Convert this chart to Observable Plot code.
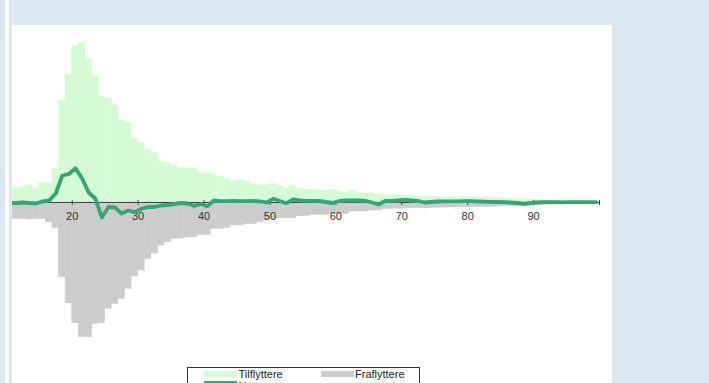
<!DOCTYPE html>
<html><head><meta charset="utf-8">
<script src="https://cdn.jsdelivr.net/npm/d3@7"></script>
<script src="https://cdn.jsdelivr.net/npm/@observablehq/plot@0.6"></script>
<style>
html,body{margin:0;padding:0;}
body{width:709px;height:383px;overflow:hidden;background:#d9e8f3;position:relative;font-family:"Liberation Sans",Arial,sans-serif;}
#strip{position:absolute;left:5px;top:0;width:4px;height:383px;background:#fff;}
#panel{position:absolute;left:12px;top:25px;width:600px;height:358px;background:#fff;overflow:hidden;}
#chart{position:absolute;left:-12px;top:0;}
#legend{position:absolute;left:175px;top:342px;width:231px;height:40px;border:1px solid #333;font-size:11px;color:#222;}
#legend .sw{position:absolute;}
#legend .lb{position:absolute;line-height:12px;white-space:nowrap;}
</style>
</head><body>
<div id="strip"></div>
<div id="panel">
  <div id="chart"></div>
  <div id="legend"></div>
</div>
<script>
// ages 10..99 (one bar per age, spanning [age, age+1])
const ages = d3.range(10, 100);
const tilflyttere = [
  137,137,150,167,130,193,193,337,1020,1277,
  1560,1593,1430,1260,1053,1037,970,820,793,630,
  593,520,495,403,393,363,347,337,337,290,
  290,273,260,233,207,220,207,183,170,170,
  183,167,140,163,137,127,127,120,117,127,
  110,97,120,93,87,87,77,70,70,70,
  65,62,60,58,55,53,50,50,52,55,
  58,48,45,43,40,38,35,33,32,30,
  30,25,22,20,17,15,12,10,8,6
];
const fraflyttere = [
  163,163,163,170,163,163,197,253,747,1007,
  1207,1347,1347,1213,1207,1063,1013,963,863,740,
  680,563,510,430,397,363,360,350,347,323,
  323,263,263,253,230,230,213,213,197,170,
  170,157,157,157,137,137,123,123,123,113,
  113,113,90,90,90,80,80,63,63,63,
  55,55,55,58,55,52,50,50,48,48,
  48,45,45,43,40,38,35,35,35,32,
  30,25,22,20,17,15,12,10,8,6
];
const netto = [
  -5,-5,0,-5,-10,10,20,90,270,285,
  343,240,100,40,-150,-45,-50,-110,-80,-97,
  -63,-47,-45,-30,-25,-15,-5,-10,-35,-15,
  -37,20,13,13,15,13,13,15,12,0,
  37,15,-7,30,20,17,17,15,5,-5,
  15,20,20,20,17,0,-20,15,17,20,
  27,20,15,0,5,10,12,12,12,13,
  13,10,8,5,5,3,0,-5,-13,-5,
  0,3,3,3,2,3,3,3,3,3
];
const tickValues = [10,20,30,40,50,60,70,80,90,100];
const tickLabels = [20,30,40,50,60,70,80,90];

const rows = ages.map((a, i) => ({age: a, tilf: tilflyttere[i], fra: fraflyttere[i], netto: netto[i]}));

const colIn = "#d5fbd5", colOut = "#cccccc", colNet = "#36a474", colAxis = "#444";

const vtick = {draw(ctx, size) { const r = Math.sqrt(size / Math.PI); ctx.moveTo(0, -r); ctx.lineTo(0, r); }};

const chart = Plot.plot({
  width: 612, height: 338,
  marginLeft: 5.8, marginRight: 13, marginTop: 0, marginBottom: 0,
  style: {fontFamily: "'Liberation Sans', Arial, sans-serif", fontSize: "11px", background: "transparent", overflow: "visible"},
  x: {domain: [10, 100], axis: null},
  y: {domain: [-1610, 1770], axis: null},
  marks: [
    Plot.rectY(rows, {x1: "age", x2: d => d.age + 1, y: "tilf", fill: colIn, stroke: colIn, strokeWidth: 0.6}),
    Plot.rectY(rows, {x1: "age", x2: d => d.age + 1, y: d => -d.fra, fill: colOut, stroke: colOut, strokeWidth: 0.6}),
    Plot.ruleY([0], {stroke: colAxis, strokeWidth: 1}),
    Plot.dot(tickValues, {x: d => d, y: 0, symbol: vtick, r: 2.6, stroke: colAxis, fill: "none", strokeWidth: 1}),
    Plot.text(tickLabels, {x: d => d, y: 0, text: d => String(d), dy: 14, fill: "#333", fontSize: 11}),
    Plot.line(rows, {x: d => d.age + 0.5, y: "netto", stroke: colNet, strokeWidth: 3.8, strokeLinejoin: "round", strokeLinecap: "round"})
  ]
});
document.getElementById("chart").appendChild(chart);

// legend
const legendItems = [
  {label: "Tilflyttere", type: "box", color: colIn, sx: 16, tx: 50.5, row: 0},
  {label: "Fraflyttere", type: "box", color: colOut, sx: 133, tx: 167, row: 0},
  {label: "Netto", type: "line", color: colNet, sx: 16, tx: 50.5, row: 1}
];
const leg = document.getElementById("legend");
for (const it of legendItems) {
  const sw = document.createElement("div");
  sw.className = "sw";
  sw.style.left = it.sx + "px";
  sw.style.width = "33px";
  sw.style.background = it.color;
  if (it.type === "box") { sw.style.top = (3 + it.row * 12) + "px"; sw.style.height = "6px"; }
  else { sw.style.top = (1 + it.row * 12) + "px"; sw.style.height = "2px"; }
  leg.appendChild(sw);
  const lb = document.createElement("div");
  lb.className = "lb";
  lb.style.left = it.tx + "px";
  lb.style.top = (-0.5 + it.row * 12) + "px";
  lb.textContent = it.label;
  leg.appendChild(lb);
}
</script>
</body></html>
